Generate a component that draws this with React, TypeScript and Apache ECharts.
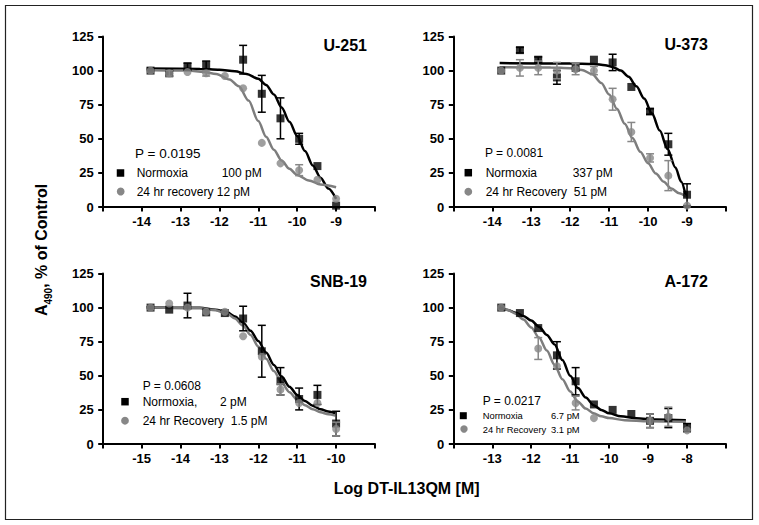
import React, { useEffect, useRef } from "react";
import * as echarts from "echarts";

// ---------- data (log M concentrations, % of control) ----------
const u251Log = [-13.77, -13.29, -12.82, -12.34, -11.86, -11.39, -10.91, -10.43, -9.95, -9.48, -9.0];
const u251Norm = [100, 98, 103, 104, null, 108, 83, 65, 50, 30, 1];
const u251NormErr = [0, 2, 2.5, 3, 0, 10.5, 13.5, 15, 4, 0, 0];
const u251Rec = [100, 98, 99, 98, 96, 87, 47, 32, 27, 20, 6];
const u251RecErr = [0, 2, 0, 2, 0, 0, 0, 0, 4, 0, 0];
const u251NormCurveX = [-13.87, -12.5, -12.0, -11.6, -11.3, -11.0, -10.8, -10.6, -10.4, -10.2, -10.0, -9.8, -9.6, -9.4, -9.2, -9.0];
const u251NormCurveY = [101.5, 101.2, 100.6, 99.5, 97.5, 94, 89.5, 82.5, 73, 62.5, 52, 41, 30.5, 21.5, 13.5, 6];
const u251RecCurveX = [-13.87, -12.8, -12.4, -12.08, -11.74, -11.5, -11.25, -11.0, -10.8, -10.6, -10.4, -10.2, -10.0, -9.7, -9.4, -9.0];
const u251RecCurveY = [100.5, 100, 99, 97.5, 93.5, 88.5, 78, 63, 51.5, 42, 34, 28, 23.5, 19.5, 16.5, 14.5];

const u373Log = [-13.77, -13.29, -12.82, -12.34, -11.86, -11.39, -10.91, -10.43, -9.95, -9.48, -9.0];
const u373Norm = [100, 115, 108, 95, 102, 108, 106, 88, 70, 46, 9];
const u373NormErr = [0, 2, 2, 5, 0, 0, 6, 0, 2, 8, 8];
const u373Rec = [100, 102, 102, 100, 101, 100, 79, 55, 36, 23, 1];
const u373RecErr = [0, 6, 5, 6, 4, 3, 8, 7, 3, 11, 0];
const u373NormCurveX = [-13.81, -12.0, -11.4, -11.1, -10.9, -10.7, -10.5, -10.3, -10.1, -9.9, -9.7, -9.5, -9.3, -9.15, -9.03];
const u373NormCurveY = [105.5, 105.2, 104.8, 104, 102.5, 100, 95.5, 88.5, 79.5, 68.5, 56, 42.5, 29, 18.5, 8];
const u373RecCurveX = [-13.81, -12.5, -12.0, -11.7, -11.44, -11.2, -11.0, -10.8, -10.6, -10.4, -10.2, -10.0, -9.8, -9.6, -9.4, -9.2, -9.03];
const u373RecCurveY = [102.5, 102.3, 101.8, 100.5, 97.5, 91, 82.5, 72, 61, 50.5, 40.5, 32, 24.5, 18.5, 13.5, 10, 7.5];

const snbLog = [-14.77, -14.29, -13.82, -13.34, -12.86, -12.39, -11.91, -11.43, -10.95, -10.48, -10.0];
const snbNorm = [100, 98.5, 101.5, 96.5, 96, 92, 68, 46, 33, 36, 15];
const snbNormErr = [0, 0, 9, 0, 0, 9, 19, 10, 8, 7, 9];
const snbRec = [100, 103, 100, 97, 97, 79, 64, 40, 30, 30, 11];
const snbRecErr = [0, 0, 0, 0, 0, 0, 0, 4, 0, 0, 5];
const snbNormCurveX = [-14.87, -13.5, -13.1, -12.8, -12.6, -12.4, -12.2, -12.0, -11.8, -11.6, -11.4, -11.2, -11.0, -10.8, -10.6, -10.4, -10.2, -10.02];
const snbNormCurveY = [100.3, 99.8, 98.5, 96.5, 93.5, 89, 83, 75.5, 67, 58, 49.5, 42, 36, 31.5, 28, 25.5, 23.8, 22.5];
const snbRecCurveX = [-14.87, -13.5, -13.1, -12.8, -12.6, -12.4, -12.2, -12.0, -11.8, -11.6, -11.4, -11.2, -11.0, -10.8, -10.6, -10.4, -10.2, -10.02];
const snbRecCurveY = [100.3, 99.5, 98, 95.5, 92, 87, 80, 71.5, 62.5, 53.5, 45, 38, 32.5, 28.5, 25.5, 23.3, 21.8, 20.8];

const a172Log = [-12.77, -12.29, -11.82, -11.34, -10.86, -10.39, -9.91, -9.43, -8.95, -8.48, -8.0];
const a172Norm = [100, 96, 85, 65, 46, 29, 25, 22, 17, 19, 12];
const a172NormErr = [0, 0, 0, 10, 10, 0, 0, 0, 5, 7, 3];
const a172Rec = [100, null, 70, 57, 30, 19, null, null, 17, 20, 10];
const a172RecErr = [0, 0, 8, 0, 5, 0, 0, 0, 5, 7, 0];
const a172NormCurveX = [-12.81, -12.6, -12.4, -12.2, -12.0, -11.8, -11.6, -11.4, -11.2, -11.0, -10.8, -10.6, -10.4, -10.2, -10.0, -9.7, -9.3, -8.8, -8.03];
const a172NormCurveY = [100, 98.3, 96.3, 93.8, 90.5, 86, 80, 73, 61.5, 50, 41, 34, 28.5, 25, 22.5, 20.3, 18.8, 18, 17.5];
const a172RecCurveX = [-12.81, -12.6, -12.4, -12.2, -12.0, -11.8, -11.6, -11.4, -11.2, -11.0, -10.8, -10.6, -10.4, -10.2, -10.0, -9.6, -9.0, -8.03];
const a172RecCurveY = [100, 98.3, 95.5, 91.3, 85.5, 78, 68.5, 58, 47.5, 38.5, 31, 26, 22.5, 20.3, 19, 17.5, 16.7, 16.3];

// axis ranges and tick labels
const xRanges = [[-15, -8], [-15, -8], [-16, -9], [-14, -7]];
const xTickLabels = [
  [-14, -13, -12, -11, -10, -9],
  [-14, -13, -12, -11, -10, -9],
  [-15, -14, -13, -12, -11, -10],
  [-13, -12, -11, -10, -9, -8],
];
const yTicks = [0, 25, 50, 75, 100, 125];

const FONT = "'Liberation Sans', Arial, Helvetica, sans-serif";
const GRAY = "#878787";
const GRAY_LINE = "#7d7d7d";

const panels = [
  { log: u251Log, norm: u251Norm, normErr: u251NormErr, rec: u251Rec, recErr: u251RecErr, ncx: u251NormCurveX, ncy: u251NormCurveY, rcx: u251RecCurveX, rcy: u251RecCurveY },
  { log: u373Log, norm: u373Norm, normErr: u373NormErr, rec: u373Rec, recErr: u373RecErr, ncx: u373NormCurveX, ncy: u373NormCurveY, rcx: u373RecCurveX, rcy: u373RecCurveY },
  { log: snbLog, norm: snbNorm, normErr: snbNormErr, rec: snbRec, recErr: snbRecErr, ncx: snbNormCurveX, ncy: snbNormCurveY, rcx: snbRecCurveX, rcy: snbRecCurveY },
  { log: a172Log, norm: a172Norm, normErr: a172NormErr, rec: a172Rec, recErr: a172RecErr, ncx: a172NormCurveX, ncy: a172NormCurveY, rcx: a172RecCurveX, rcy: a172RecCurveY },
];

const grids = [
  { left: 102.7, top: 36.5, width: 272.3, height: 170.5 },
  { left: 453.3, top: 36.5, width: 272.7, height: 170.5 },
  { left: 102.7, top: 273.5, width: 272.3, height: 170.5 },
  { left: 453.3, top: 273.5, width: 272.7, height: 170.5 },
];

function errRender(color: string) {
  return (params: any, api: any) => {
    const x = api.value(0);
    const y = api.value(1);
    const e = api.value(2);
    const top = api.coord([x, y + e]);
    const bot = api.coord([x, y - e]);
    const hw = 4;
    const st = { stroke: color, lineWidth: 1.5 };
    return {
      type: "group",
      children: [
        { type: "line", shape: { x1: top[0], y1: top[1], x2: bot[0], y2: bot[1] }, style: st },
        { type: "line", shape: { x1: top[0] - hw, y1: top[1], x2: top[0] + hw, y2: top[1] }, style: st },
        { type: "line", shape: { x1: bot[0] - hw, y1: bot[1], x2: bot[0] + hw, y2: bot[1] }, style: st },
      ],
    };
  };
}

function txt(x: number, y: number, text: string, size: number, opts: any = {}) {
  return {
    type: "text",
    x,
    y,
    z: 100,
    style: {
      text,
      font: `${opts.bold ? "bold " : ""}${size}px ${FONT}`,
      fill: "#000",
      textAlign: opts.align || "left",
      textVerticalAlign: "middle",
    },
  };
}

function sq(cx: number, cy: number, s: number) {
  return { type: "rect", z: 100, shape: { x: cx - s / 2, y: cy - s / 2, width: s, height: s }, style: { fill: "#000" } };
}
function dot(cx: number, cy: number, r: number) {
  return { type: "circle", z: 100, shape: { cx, cy, r }, style: { fill: GRAY } };
}

export default function App() {
  const ref = useRef<HTMLDivElement>(null);
  useEffect(() => {
    if (!ref.current) return;
    const chart = echarts.init(ref.current, null, { renderer: "svg" });

    const xAxis = grids.map((_, i) => ({
      type: "value",
      gridIndex: i,
      min: xRanges[i][0],
      max: xRanges[i][1],
      interval: 1,
      axisLine: { show: true, onZero: false, lineStyle: { color: "#000", width: 2 } },
      axisTick: { show: true, length: 4.5, lineStyle: { color: "#000", width: 2 } },
      axisLabel: {
        margin: 8,
        color: "#000",
        fontFamily: FONT,
        fontWeight: "bold",
        fontSize: 13,
        formatter: (v: number) => (xTickLabels[i].includes(Math.round(v)) ? String(Math.round(v)) : ""),
      },
      splitLine: { show: false },
    }));

    const yAxis = grids.map((_, i) => ({
      type: "value",
      gridIndex: i,
      min: yTicks[0],
      max: yTicks[yTicks.length - 1],
      interval: 25,
      axisLine: { show: true, onZero: false, lineStyle: { color: "#000", width: 2 } },
      axisTick: { show: true, length: 4.5, lineStyle: { color: "#000", width: 2 } },
      axisLabel: { margin: 9, color: "#000", fontFamily: FONT, fontWeight: "bold", fontSize: 13 },
      splitLine: { show: false },
    }));

    const series: any[] = [];
    panels.forEach((p, i) => {
      series.push({
        type: "line",
        xAxisIndex: i,
        yAxisIndex: i,
        data: p.ncx.map((x, k) => [x, p.ncy[k]]),
        smooth: 0.3,
        smoothMonotone: "x",
        showSymbol: false,
        symbol: "none",
        lineStyle: { color: "#000", width: 2.5 },
        z: 2,
      });
      series.push({
        type: "line",
        xAxisIndex: i,
        yAxisIndex: i,
        data: p.rcx.map((x, k) => [x, p.rcy[k]]),
        smooth: 0.3,
        smoothMonotone: "x",
        showSymbol: false,
        symbol: "none",
        lineStyle: { color: GRAY_LINE, width: 2.5 },
        z: 2,
      });
      series.push({
        type: "custom",
        xAxisIndex: i,
        yAxisIndex: i,
        renderItem: errRender("#000"),
        encode: { x: 0, y: 1 },
        data: p.log.map((x, k) => [x, p.norm[k], p.normErr[k]]).filter((d) => d[1] != null && (d[2] as number) > 0),
        z: 3,
      });
      series.push({
        type: "scatter",
        xAxisIndex: i,
        yAxisIndex: i,
        symbol: "rect",
        symbolSize: 8,
        itemStyle: { color: "#000" },
        data: p.log.map((x, k) => [x, p.norm[k]]).filter((d) => d[1] != null),
        z: 4,
      });
      series.push({
        type: "custom",
        xAxisIndex: i,
        yAxisIndex: i,
        renderItem: errRender(GRAY),
        encode: { x: 0, y: 1 },
        data: p.log.map((x, k) => [x, p.rec[k], p.recErr[k]]).filter((d) => d[1] != null && (d[2] as number) > 0),
        z: 5,
      });
      series.push({
        type: "scatter",
        xAxisIndex: i,
        yAxisIndex: i,
        symbol: "circle",
        symbolSize: 8,
        itemStyle: { color: GRAY },
        data: p.log.map((x, k) => [x, p.rec[k]]).filter((d) => d[1] != null),
        z: 6,
      });
    });

    const graphic: any[] = [
      { type: "rect", z: 0, shape: { x: 5.5, y: 5.5, width: 747, height: 514 }, style: { fill: "none", stroke: "#222", lineWidth: 1.2 } },
      // panel titles
      txt(367, 45, "U-251", 16, { bold: true, align: "right" }),
      txt(708, 44, "U-373", 16, { bold: true, align: "right" }),
      txt(367, 281.5, "SNB-19", 16, { bold: true, align: "right" }),
      txt(708, 281, "A-172", 16, { bold: true, align: "right" }),
      // panel 1 legend
      txt(135, 153.5, "P = 0.0195", 13.5),
      sq(120.5, 173, 7.5),
      txt(136.7, 173, "Normoxia", 12),
      txt(221.7, 173, "100 pM", 12),
      dot(120.7, 191.5, 3.9),
      txt(136.7, 191.5, "24 hr recovery 12 pM", 12),
      // panel 2 legend
      txt(485, 153, "P = 0.0081", 12),
      sq(468.3, 172.7, 7.5),
      txt(485.7, 172.7, "Normoxia", 12),
      txt(572.7, 172.7, "337 pM", 12),
      dot(468.3, 191.7, 3.9),
      txt(485.7, 191.7, "24 hr Recovery  51 pM", 12),
      // panel 3 legend
      txt(142.7, 386, "P = 0.0608", 12),
      sq(125, 401.7, 7.5),
      txt(142.7, 401.7, "Normoxia,", 12),
      txt(220, 401.7, "2 pM", 12),
      dot(125, 420.7, 3.9),
      txt(142.7, 420.7, "24 hr Recovery  1.5 pM", 12),
      // panel 4 legend
      txt(482.7, 400.7, "P = 0.0217", 12),
      sq(463.3, 415.7, 7),
      txt(482.7, 415.7, "Normoxia", 9.4),
      txt(551, 415.7, "6.7 pM", 9.4),
      dot(464, 429, 3.7),
      txt(482.7, 429, "24 hr Recovery", 9.4),
      txt(551, 429, "3.1 pM", 9.4),
      // axis titles
      txt(406.7, 488, "Log DT-IL13QM [M]", 16, { bold: true, align: "center" }),
      {
        type: "text",
        x: 39,
        y: 250,
        rotation: Math.PI / 2,
        z: 100,
        style: {
          text: "{a|A}{s|490}{a|, % of Control}",
          textAlign: "center",
          textVerticalAlign: "middle",
          fill: "#000",
          rich: {
            a: { fontFamily: FONT, fontWeight: "bold", fontSize: 16, lineHeight: 20, verticalAlign: "bottom" },
            s: { fontFamily: FONT, fontWeight: "bold", fontSize: 10, lineHeight: 20, verticalAlign: "bottom", padding: [0, 0, -4, 0] },
          },
        },
      },
    ];

    chart.setOption({
      animation: false,
      backgroundColor: "#fff",
      grid: grids,
      xAxis,
      yAxis,
      series,
      graphic,
    });
    return () => chart.dispose();
  }, []);
  return <div ref={ref} style={{ position: "absolute", left: 0, top: 0, width: 759, height: 525 }} />;
}
